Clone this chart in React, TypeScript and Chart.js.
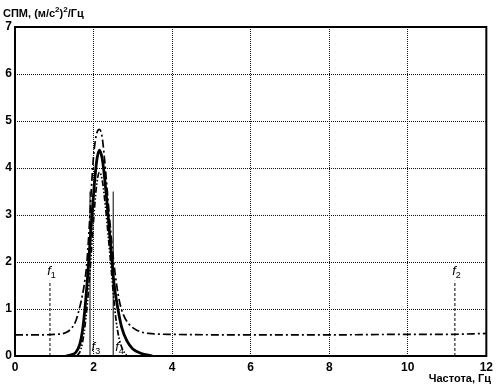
import React, { useEffect, useRef } from "react";
import { Chart, registerables } from "chart.js";
Chart.register(...registerables);

// Solid curve
const solidFreq = [1.3, 1.45, 1.55, 1.65, 1.72, 1.78, 1.84, 1.9, 1.96, 2.02, 2.08, 2.15, 2.22, 2.28, 2.36, 2.44, 2.52, 2.62, 2.72, 2.85, 3.0, 3.2, 3.5];
const solidPsd = [0.0, 0.03, 0.08, 0.25, 0.55, 1.0, 1.6, 2.3, 3.0, 3.65, 4.15, 4.38, 4.2, 3.8, 3.1, 2.3, 1.55, 1.0, 0.6, 0.32, 0.15, 0.06, 0.0];

// Dash-dot curve (with background level)
const dashFreq = [0, 0.5, 1.0, 1.3, 1.45, 1.55, 1.62, 1.68, 1.75, 1.82, 1.88, 1.94, 2.0, 2.07, 2.15, 2.22, 2.3, 2.38, 2.46, 2.55, 2.65, 2.75, 2.9, 3.1, 3.4, 4, 6, 8, 10, 11, 12];
const dashPsd = [0.45, 0.45, 0.46, 0.5, 0.6, 0.75, 0.95, 1.15, 1.45, 1.9, 2.6, 3.5, 4.25, 4.7, 4.82, 4.65, 4.0, 3.2, 2.45, 1.75, 1.2, 0.9, 0.68, 0.55, 0.48, 0.46, 0.45, 0.45, 0.46, 0.46, 0.48];

// Narrow dash-dot-dot curve
const narrowFreq = [1.58, 1.68, 1.76, 1.84, 1.9, 1.96, 2.02, 2.08, 2.15, 2.22, 2.3, 2.38, 2.46, 2.54, 2.62, 2.72, 2.85];
const narrowPsd = [0.0, 0.15, 0.5, 1.1, 1.7, 2.4, 3.1, 3.65, 3.91, 3.75, 3.2, 2.5, 1.75, 1.0, 0.5, 0.18, 0.0];

// Frequency markers
const markerNames = ["1", "2", "3", "4"];
const markerFreq = [0.89, 11.2, 1.91, 2.5];
const markerTop = [1.6, 1.6, 3.5, 3.5];
const markerLabelX = [0.82, 11.13, 1.95, 2.55];
const markerLabelY = [1.72, 1.72, 0.1, 0.1];

const xTicks = [0, 2, 4, 6, 8, 10, 12];
const yTicks = [0, 1, 2, 3, 4, 5, 6, 7];

const FONT = "'Liberation Sans', Arial, sans-serif";

export default function App() {
  const ref = useRef<HTMLCanvasElement | null>(null);
  useEffect(() => {
    document.body.style.margin = "0";
    const canvas = ref.current!;
    const toPts = (xs: number[], ys: number[]) => xs.map((x, i) => ({ x, y: ys[i] }));
    const markerSets = markerFreq.map((f, i) => ({
      data: [{ x: f, y: 0 }, { x: f, y: markerTop[i] }],
      borderColor: "#000",
      borderWidth: 1,
      borderDash: i < 2 ? [3, 2] : [],
      pointRadius: 0,
      fill: false,
    }));
    const overlay = {
      id: "overlay",
      afterDraw(chart: any) {
        const { ctx, chartArea: a, scales } = chart;
        ctx.save();
        ctx.strokeStyle = "#000";
        ctx.lineWidth = 2;
        ctx.strokeRect(a.left, a.top, a.right - a.left, a.bottom - a.top);
        ctx.fillStyle = "#000";
        // y title with superscripts
        let x = 3;
        const base = 17;
        const parts: [string, boolean][] = [["СПМ, (м/с", false], ["2", true], [")", false], ["2", true], ["/Гц", false]];
        for (const [t, sup] of parts) {
          ctx.font = sup ? `bold 8px ${FONT}` : `bold 11px ${FONT}`;
          ctx.textBaseline = "alphabetic";
          ctx.textAlign = "left";
          ctx.fillText(t, x, sup ? base - 5 : base);
          x += ctx.measureText(t).width;
        }
        // x title
        ctx.font = `bold 11px ${FONT}`;
        ctx.textAlign = "right";
        ctx.fillText("Частота, Гц", 491, 382);
        // marker labels
        markerNames.forEach((n, i) => {
          const px = scales.x.getPixelForValue(markerLabelX[i]);
          const py = scales.y.getPixelForValue(markerLabelY[i]);
          ctx.textAlign = "left";
          ctx.font = `italic 13px ${FONT}`;
          ctx.fillText("f", px, py);
          const w = ctx.measureText("f").width;
          ctx.font = `9px ${FONT}`;
          ctx.fillText(n, px + w, py + 3);
        });
        ctx.restore();
      },
    };
    const chart = new Chart(canvas, {
      type: "line",
      data: {
        datasets: [
          {
            data: toPts(dashFreq, dashPsd),
            borderColor: "#000",
            borderWidth: 1.7,
            borderDash: [8, 3, 2, 3],
            pointRadius: 0,
            cubicInterpolationMode: "monotone",
          },
          {
            data: toPts(narrowFreq, narrowPsd),
            borderColor: "#000",
            borderWidth: 1.7,
            borderDash: [6, 2, 1.5, 2, 1.5, 2],
            pointRadius: 0,
            cubicInterpolationMode: "monotone",
          },
          {
            data: toPts(solidFreq, solidPsd),
            borderColor: "#000",
            borderWidth: 2.8,
            pointRadius: 0,
            cubicInterpolationMode: "monotone",
          },
          ...markerSets,
        ] as any,
      },
      options: {
        animation: false,
        responsive: false,
        events: [],
        layout: { padding: { left: 0, right: 10, top: 27, bottom: 0 } },
        plugins: { legend: { display: false }, tooltip: { enabled: false }, title: { display: false } },
        scales: {
          x: {
            type: "linear",
            min: 0,
            max: 12,
            afterBuildTicks: (s: any) => { s.ticks = xTicks.map((v) => ({ value: v })); },
            afterFit: (s: any) => { s.height = 33; },
            grid: { color: "#111", lineWidth: 1, drawTicks: false },
            border: { display: false, dash: [1, 1] },
            ticks: { color: "#000", font: { family: FONT, size: 12, weight: "bold" }, padding: 4, maxRotation: 0 },
          },
          y: {
            type: "linear",
            min: 0,
            max: 7,
            afterBuildTicks: (s: any) => { s.ticks = yTicks.map((v) => ({ value: v })); },
            afterFit: (s: any) => { s.width = 15; },
            grid: { color: "#111", lineWidth: 1, drawTicks: false },
            border: { display: false, dash: [1, 1] },
            ticks: { color: "#000", font: { family: FONT, size: 12, weight: "bold" }, padding: 3 },
          },
        },
      } as any,
      plugins: [overlay],
    });
    return () => chart.destroy();
  }, []);
  return <canvas ref={ref} width={497} height={389} style={{ display: "block" }} />;
}
